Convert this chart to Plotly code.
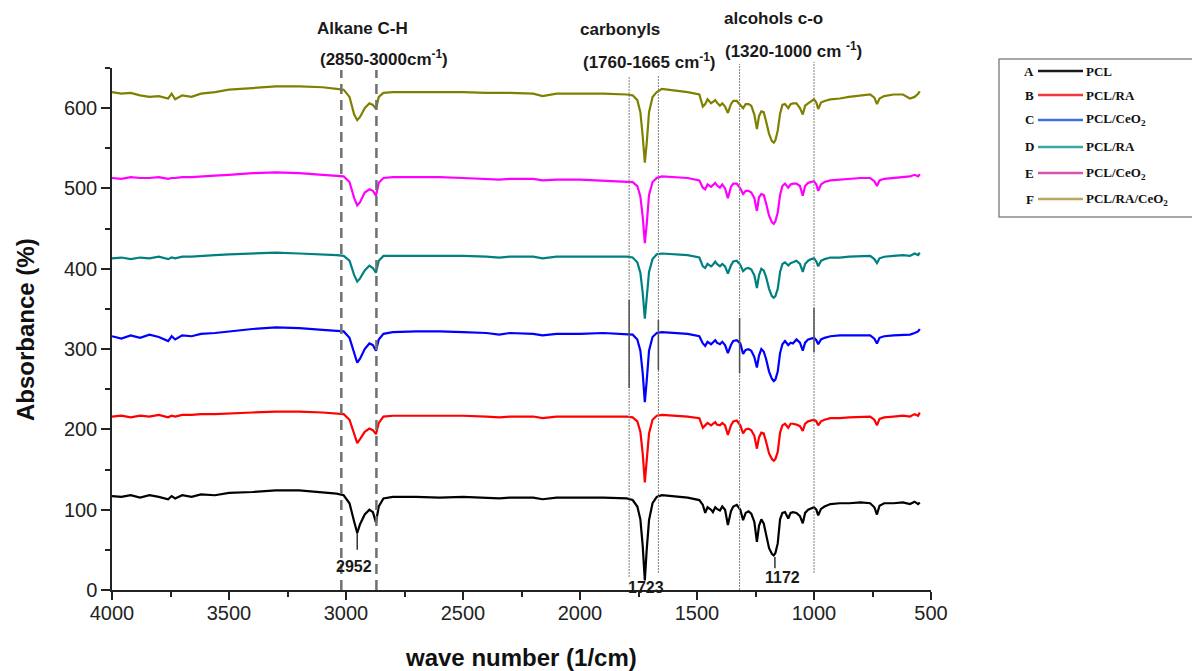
import plotly.graph_objects as go

# ---------------- data ----------------
wavenumber = [4000, 3960, 3920, 3880, 3840, 3800, 3760, 3745, 3730, 3700, 3660, 3620, 3560, 3500, 3400, 3300,
              3200, 3100, 3040, 3010, 2985, 2965, 2952, 2940, 2920, 2900, 2885, 2872, 2860, 2840, 2800, 2700,
              2600, 2500, 2400, 2345, 2300, 2200, 2160, 2100, 2000, 1900, 1800, 1775, 1755, 1742, 1732, 1723,
              1715, 1705, 1690, 1672, 1650, 1600, 1540, 1490, 1475, 1465, 1455, 1440, 1432, 1422, 1415, 1402,
              1392, 1380, 1368, 1355, 1345, 1330, 1315, 1303, 1292, 1280, 1268, 1255, 1244, 1235, 1225, 1215,
              1205, 1192, 1180, 1172, 1165, 1155, 1145, 1135, 1124, 1110, 1100, 1090, 1075, 1060, 1048, 1038,
              1025, 1012, 1000, 990, 982, 970, 955, 930, 890, 850, 800, 760, 742, 731, 720, 700,
              660, 620, 590, 570, 555, 548]

A_PCL = [117, 116, 118, 115, 118, 116, 113, 117, 114, 118, 116, 119, 118, 121, 122, 124,
         124, 121, 120, 118, 108, 85, 71, 82, 94, 100, 97, 84, 104, 114, 116, 116,
         115, 116, 115, 114, 115, 115, 113, 115, 115, 115, 114, 112, 104, 88, 55, 12,
         50, 87, 108, 116, 118, 117, 115, 112, 106, 96, 103, 100, 97, 103, 101, 99,
         104, 100, 81, 98, 104, 106, 100, 87, 96, 98, 95, 85, 60, 80, 88, 83,
         70, 52, 45, 43, 46, 58, 88, 96, 97, 89, 96, 97, 96, 92, 83, 96,
         100, 102, 103, 100, 93, 101, 104, 107, 108, 108, 109, 108, 103, 94, 105, 108,
         108, 109, 107, 110, 107, 109]

B_PCL_RA = [216, 217, 215, 217, 216, 218, 215, 217, 216, 218, 218, 219, 219, 220, 221, 222,
            222, 221, 220, 219, 212, 193, 183, 188, 197, 201, 199, 194, 208, 216, 217, 217,
            217, 217, 216, 215, 216, 216, 214, 216, 216, 216, 216, 215, 210, 197, 170, 134,
            160, 195, 212, 217, 218, 217, 216, 214, 202, 205, 208, 205, 207, 209, 206, 205,
            208, 205, 193, 205, 210, 211, 205, 195, 200, 201, 199, 192, 176, 190, 196, 195,
            185, 170, 163, 161, 163, 172, 196, 205, 207, 202, 207, 207, 206, 204, 198, 207,
            210, 211, 212, 210, 205, 210, 212, 214, 214, 215, 216, 216, 212, 205, 213, 215,
            216, 217, 216, 219, 217, 221]

C_PCL_CeO2 = [316, 313, 317, 314, 318, 315, 310, 316, 312, 317, 316, 319, 320, 322, 325, 327,
              326, 324, 323, 322, 314, 294, 283, 288, 300, 307, 305, 298, 312, 319, 321, 322,
              322, 321, 320, 318, 320, 319, 317, 319, 319, 320, 319, 318, 312, 298, 270, 234,
              260, 298, 315, 320, 321, 320, 319, 316, 307, 304, 309, 306, 308, 311, 308, 306,
              309, 305, 295, 305, 310, 311, 307, 294, 299, 300, 298, 290, 277, 292, 300, 297,
              288, 272, 263, 260, 262, 272, 295, 306, 310, 305, 308, 307, 312, 308, 298, 308,
              312, 313, 314, 311, 306, 312, 314, 316, 317, 317, 317, 317, 313, 307, 314, 316,
              317, 318, 318, 320, 322, 325]

D_PCL_RA = [413, 414, 412, 414, 413, 415, 412, 414, 413, 415, 415, 416, 417, 418, 419, 420,
            419, 418, 417, 416, 410, 392, 384, 388, 398, 404, 401, 395, 410, 416, 416, 416,
            416, 416, 415, 414, 415, 415, 413, 415, 415, 415, 415, 414, 408, 395, 370, 338,
            362, 396, 412, 418, 419, 418, 417, 414, 403, 401, 406, 403, 405, 409, 406, 403,
            406, 403, 394, 404, 409, 410, 405, 397, 400, 401, 399, 392, 376, 392, 400, 398,
            390, 375, 366, 364, 366, 375, 396, 406, 408, 404, 407, 408, 410, 406, 396, 406,
            410, 412, 413, 409, 403, 410, 412, 414, 414, 415, 416, 416, 412, 407, 413, 415,
            416, 417, 416, 419, 417, 420]

E_PCL_CeO2 = [513, 512, 514, 513, 513, 514, 512, 513, 513, 514, 514, 515, 516, 517, 519, 520,
              519, 517, 516, 515, 508, 488, 479, 483, 495, 499, 497, 491, 507, 513, 514, 514,
              514, 513, 512, 511, 512, 512, 510, 511, 511, 510, 509, 508, 503, 490, 465, 432,
              455, 492, 508, 513, 515, 514, 513, 510, 501, 499, 505, 502, 504, 507, 504, 501,
              505, 500, 488, 502, 506, 506, 500, 493, 497, 497, 495, 488, 472, 489, 493, 492,
              482, 466, 458, 456, 459, 470, 492, 503, 506, 501, 505, 506, 506, 503, 491, 503,
              507, 508, 509, 505, 497, 505, 508, 510, 511, 512, 513, 513, 509, 503, 510, 512,
              513, 514, 515, 517, 515, 518]

F_PCL_RA_CeO2 = [620, 618, 619, 616, 614, 615, 612, 618, 611, 616, 614, 618, 620, 623, 625, 627,
                 627, 626, 624, 623, 614, 592, 585, 589, 600, 606, 604, 599, 614, 619, 620, 620,
                 620, 620, 619, 619, 619, 618, 615, 618, 618, 618, 617, 616, 610, 595, 565, 532,
                 556, 595, 614, 620, 624, 622, 620, 617, 602, 605, 611, 606, 608, 610, 607, 603,
                 606, 602, 594, 605, 609, 609, 604, 600, 605, 605, 603, 592, 574, 590, 596, 595,
                 584, 568, 559, 557, 560, 572, 593, 604, 605, 600, 605, 606, 606, 600, 592, 603,
                 606, 609, 611, 607, 599, 607, 609, 611, 612, 614, 616, 617, 613, 605, 612, 615,
                 617, 617, 612, 614, 618, 621]

series_letters = ["A", "B", "C", "D", "E", "F"]
series_names = ["PCL", "PCL/RA", "PCL/CeO<sub>2</sub>", "PCL/RA", "PCL/CeO<sub>2</sub>", "PCL/RA/CeO<sub>2</sub>"]
series_values = [A_PCL, B_PCL_RA, C_PCL_CeO2, D_PCL_RA, E_PCL_CeO2, F_PCL_RA_CeO2]
line_colors = ["#000000", "#ff0000", "#0000ff", "#008080", "#ff00ff", "#808000"]
legend_colors = ["#1a1a1a", "#f03a3a", "#3f6fd8", "#3aa8a8", "#d455b4", "#b8a860"]

region_dash = [3020, 2870]          # Alkane C-H
region_carbonyl = [1790, 1665]      # carbonyls
region_alcohol = [1318, 1000]       # alcohols c-o
peak_labels = [("2952", 2952, 71), ("1723", 1723, 12), ("1172", 1167, 41)]
x_title = "wave number (1/cm)"
y_title = "Absorbance (%)"

# ---------------- geometry helpers (pixel -> paper) ----------------
W, H = 1192, 671
L, R, T, B = 112, 261, 68, 81
PW, PH = W - L - R, H - T - B


def xp(px):
    return (px - L) / PW


def yp(py):
    return (H - B - py) / PH


fig = go.Figure()
for vals, col, nm in zip(series_values, line_colors, series_names):
    fig.add_trace(go.Scatter(x=wavenumber, y=vals, mode="lines", name=nm,
                             line=dict(color=col, width=2.2), showlegend=False))

shapes = []
# dashed lines for alkane C-H
for w in region_dash:
    shapes.append(dict(type="line", xref="x", yref="paper", x0=w, x1=w, y0=0, y1=yp(70),
                       line=dict(color="#707070", width=2.5, dash="10px,6px")))
# dotted lines
dot_spans = [(region_carbonyl[0], 76, 577), (region_carbonyl[1], 76, 573),
             (region_alcohol[0], 64, 590), (region_alcohol[1], 62, 573)]
for w, ytop, ybot in dot_spans:
    shapes.append(dict(type="line", xref="x", yref="paper", x0=w, x1=w, y0=yp(ybot), y1=yp(ytop),
                       line=dict(color="#808080", width=1, dash="2px,1px")))
# darker solid segments on the dotted lines
solid_spans = [(region_carbonyl[0], 300, 388), (region_carbonyl[1], 320, 370),
               (region_alcohol[0], 318, 373), (region_alcohol[1], 308, 352)]
for w, ytop, ybot in solid_spans:
    shapes.append(dict(type="line", xref="x", yref="paper", x0=w, x1=w, y0=yp(ybot), y1=yp(ytop),
                       line=dict(color="#505050", width=1.5)))
# peak label ticks
shapes.append(dict(type="line", xref="x", yref="y", x0=2952, x1=2952, y0=71, y1=50,
                   line=dict(color="#333", width=1.5)))
shapes.append(dict(type="line", xref="x", yref="y", x0=1167, x1=1167, y0=41, y1=27,
                   line=dict(color="#333", width=1.5)))

# legend box
shapes.append(dict(type="rect", xref="paper", yref="paper", x0=xp(999), x1=xp(1200), y0=yp(217), y1=yp(59),
                   line=dict(color="#8a8a8a", width=1.5), fillcolor="white"))
legend_y = [71, 95, 120, 147, 173, 199]
annotations = []
for ly, let, nm, col in zip(legend_y, series_letters, series_names, legend_colors):
    shapes.append(dict(type="line", xref="paper", yref="paper", x0=xp(1038), x1=xp(1083), y0=yp(ly), y1=yp(ly),
                       line=dict(color=col, width=2.5)))
    annotations.append(dict(xref="paper", yref="paper", x=xp(1036), y=yp(ly), text="<b>" + let + "</b>",
                            showarrow=False, xanchor="right", yanchor="middle",
                            font=dict(family="Liberation Serif", size=13, color="#111")))
    annotations.append(dict(xref="paper", yref="paper", x=xp(1084), y=yp(ly), text="<b>" + nm + "</b>",
                            showarrow=False, xanchor="left", yanchor="middle",
                            font=dict(family="Liberation Serif", size=13, color="#111")))

# region titles
afont = dict(family="Liberation Sans, Arial", size=17, color="#1a1a1a")
region_text = [("<b>Alkane C-H</b>", 362, 28), ("<b>(2850-3000cm<sup>-1</sup>)</b>", 384, 58),
               ("<b>carbonyls</b>", 620, 29), ("<b>(1760-1665 cm<sup>-1</sup>)</b>", 649, 61),
               ("<b>alcohols c-o</b>", 773, 18), ("<b>(1320-1000 cm <sup>-1</sup>)</b>", 793, 50)]
for txt, px, py in region_text:
    annotations.append(dict(xref="paper", yref="paper", x=xp(px), y=yp(py), text=txt, showarrow=False,
                            xanchor="center", yanchor="middle", font=afont))
peak_pos = [(354, 566), (646, 587), (782, 577)]
for (txt, _, _), (px, py) in zip(peak_labels, peak_pos):
    annotations.append(dict(xref="paper", yref="paper", x=xp(px), y=yp(py), text="<b>" + txt + "</b>",
                            showarrow=False, xanchor="center", yanchor="middle",
                            font=dict(family="Liberation Sans, Arial", size=16, color="#1a1a1a")))

# axis titles
annotations.append(dict(xref="paper", yref="paper", x=xp(521), y=yp(657), text="<b>" + x_title + "</b>",
                        showarrow=False, xanchor="center", yanchor="middle",
                        font=dict(family="Liberation Sans, Arial", size=24, color="#111")))
annotations.append(dict(xref="paper", yref="paper", x=xp(25), y=yp(330), text="<b>" + y_title + "</b>",
                        showarrow=False, xanchor="center", yanchor="middle", textangle=-90,
                        font=dict(family="Liberation Sans, Arial", size=24, color="#111")))

fig.update_layout(
    width=W, height=H, autosize=False,
    margin=dict(l=L, r=R, t=T, b=B, pad=0),
    paper_bgcolor="white", plot_bgcolor="white",
    font=dict(family="Liberation Sans, Arial", color="#222"),
    shapes=shapes, annotations=annotations, showlegend=False,
    xaxis=dict(range=[4000, 500], showgrid=False, zeroline=False, showline=True, linecolor="#222", linewidth=1.5,
               ticks="outside", ticklen=8, tickwidth=1.5, tickcolor="#222", dtick=500, tick0=500,
               minor=dict(ticks="outside", ticklen=5, tickwidth=1.5, tickcolor="#222", dtick=250),
               tickfont=dict(size=20, color="#222"), ticklabelstandoff=-4, automargin=False),
    yaxis=dict(range=[0, 650], showgrid=False, zeroline=False, showline=True, linecolor="#222", linewidth=1.5,
               ticks="outside", ticklen=9, tickwidth=1.5, tickcolor="#222", dtick=100, tick0=0,
               minor=dict(ticks="outside", ticklen=5, tickwidth=1.5, tickcolor="#222", dtick=50),
               tickfont=dict(size=20, color="#222"), automargin=False),
)

fig.write_html("out.html")
